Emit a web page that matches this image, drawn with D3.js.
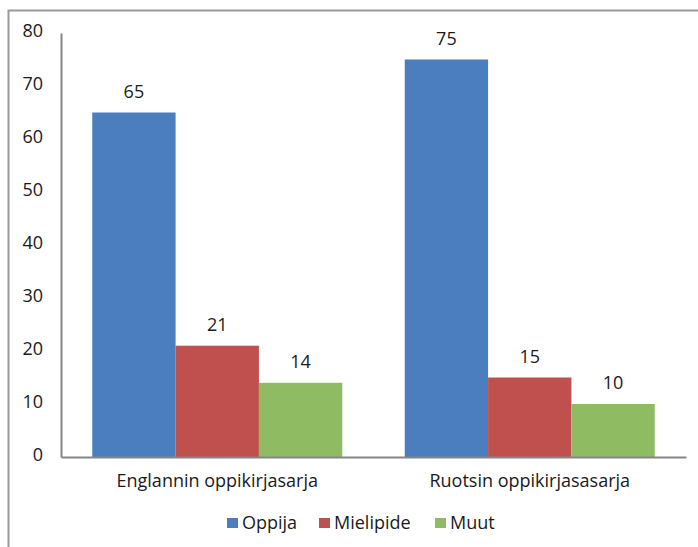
<!DOCTYPE html>
<html>
<head>
<meta charset="utf-8">
<script src="https://cdn.jsdelivr.net/npm/d3@7"></script>
<style>
  body { margin: 0; background: #fff; }
  text { font-family: "Open Sans", sans-serif; fill: #1a1a1a; }
</style>
</head>
<body>
<div id="chart"></div>
<script>
// data
var categories = ['Englannin oppikirjasarja', 'Ruotsin oppikirjasasarja'];
var seriesNames = ['Oppija', 'Mielipide', 'Muut'];
var oppija = [65, 75];
var mielipide = [21, 15];
var muut = [14, 10];
var yTicks = [0, 10, 20, 30, 40, 50, 60, 70, 80];
var colors = ['#4a7ebf', '#c0504d', '#8fbc63'];

var W = 698, H = 547;
var plotLeft = 61, plotRight = 686, plotTop = 33, plotBottom = 457;
var fs = 18;

var svg = d3.select('#chart').append('svg')
    .attr('width', W)
    .attr('height', H);

// outer frame (only left and top edges are visible)
svg.append('path')
    .attr('d', 'M8.5,' + H + ' V10.5 H' + W)
    .attr('fill', 'none')
    .attr('stroke', '#9a9a9a')
    .attr('stroke-width', 2);

var x0 = d3.scaleBand().domain(categories).range([plotLeft, plotRight]).paddingInner(0.2).paddingOuter(0.1);
var x1 = d3.scaleBand().domain(seriesNames).range([0, x0.bandwidth()]);
var y = d3.scaleLinear().domain([0, 80]).range([plotBottom, plotTop]);

var rows = categories.map(function(c, i) {
    return { cat: c, vals: [oppija[i], mielipide[i], muut[i]] };
});

var g = svg.append('g');
rows.forEach(function(r) {
    r.vals.forEach(function(v, j) {
        g.append('rect')
            .attr('x', x0(r.cat) + x1(seriesNames[j]))
            .attr('y', y(v))
            .attr('width', x1.bandwidth())
            .attr('height', y(0) - y(v))
            .attr('fill', colors[j]);
        g.append('text')
            .attr('x', x0(r.cat) + x1(seriesNames[j]) + x1.bandwidth() / 2)
            .attr('y', y(v) - 15)
            .attr('text-anchor', 'middle')
            .attr('font-size', fs)
            .text(v);
    });
});

// y axis
var yAxis = d3.axisLeft(y).tickValues(yTicks).tickSize(0).tickPadding(18);
var ya = svg.append('g').attr('transform', 'translate(' + plotLeft + ',0)').call(yAxis);
ya.select('.domain').attr('stroke', '#868686').attr('stroke-width', 2);
ya.selectAll('text').attr('font-size', fs).attr('dy', '0.2em')
    .style('font-family', '"Open Sans", sans-serif').attr('fill', '#1a1a1a');

// x axis
var xAxis = d3.axisBottom(x0).tickSize(0).tickPadding(17);
var xa = svg.append('g').attr('transform', 'translate(0,' + plotBottom + ')').call(xAxis);
xa.select('.domain').attr('stroke', '#868686').attr('stroke-width', 2);
xa.selectAll('text').attr('font-size', fs)
    .style('font-family', '"Open Sans", sans-serif').attr('fill', '#1a1a1a');

// legend
var legendX = [227, 319, 435];
var lg = svg.append('g');
seriesNames.forEach(function(s, i) {
    lg.append('rect')
        .attr('x', legendX[i])
        .attr('y', 518)
        .attr('width', 11)
        .attr('height', 10)
        .attr('fill', colors[i]);
    lg.append('text')
        .attr('x', legendX[i] + 15)
        .attr('y', 529)
        .attr('font-size', fs)
        .text(s);
});
</script>
</body>
</html>
